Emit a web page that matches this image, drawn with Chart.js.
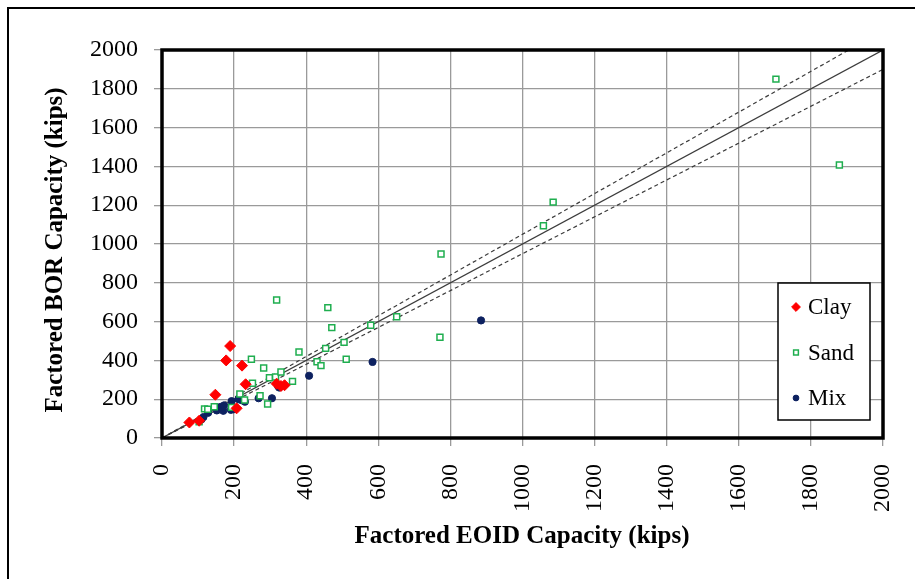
<!DOCTYPE html>
<html>

<head>
    <title>Factored BOR vs EOID Capacity</title>
    <script src="https://cdn.jsdelivr.net/npm/chart.js"></script>
    <style>
        html, body {
            margin: 0;
            padding: 0;
            background: #ffffff;
        }

        .chart-container {
            position: relative;
            width: 915px;
            height: 579px;
        }
    </style>
</head>

<body>
    <div class="chart-container">
        <canvas id="capacityChart"></canvas>
    </div>

    <script>
        // Factored capacities (kips): [EOID, BOR]
        const clayPoints = [
            [76, 80], [103, 89], [148, 223], [178, 400], [189, 474], [207, 153],
            [222, 373], [232, 277], [318, 280], [330, 268], [340, 272]
        ];
        const sandPoints = [
            [103, 84], [118, 150], [127, 148], [145, 161], [193, 158], [216, 227],
            [229, 196], [248, 406], [251, 282], [272, 218], [282, 361], [293, 175],
            [298, 311], [315, 314], [318, 711], [330, 340], [362, 292], [380, 443],
            [430, 393], [441, 373], [454, 462], [460, 672], [471, 569], [505, 493],
            [511, 406], [579, 581], [651, 625], [771, 519], [774, 948], [1058, 1094],
            [1085, 1216], [1703, 1850], [1879, 1407]
        ];
        const mixPoints = [
            [110, 97], [115, 108], [128, 130], [152, 142], [162, 160], [170, 140],
            [172, 168], [191, 145], [193, 190], [199, 148], [212, 200], [221, 195],
            [230, 187], [268, 205], [305, 205], [322, 268], [325, 260], [408, 321],
            [584, 392], [885, 606]
        ];

        // 1:1 line and the +/-5% band
        const equalityLine = [[0, 0], [2000, 2000]];
        const upperBand = [[0, 0], [1905, 2000]];
        const lowerBand = [[0, 0], [2000, 1900]];

        const axisMin = 0;
        const axisMax = 2000;
        const axisStep = 200;

        const toXY = pts => pts.map(p => ({ x: p[0], y: p[1] }));

        const serif = "'Liberation Serif', 'Times New Roman', serif";

        const clayStyle = { pointStyle: 'rectRot', radius: 5.5, backgroundColor: '#ff0000', borderColor: '#ff0000', borderWidth: 1 };
        const sandStyle = { pointStyle: 'rect', radius: 4.2, backgroundColor: '#ffffff', borderColor: '#1fae4f', borderWidth: 1.5 };
        const mixStyle = { pointStyle: 'circle', radius: 3.6, backgroundColor: '#0d2160', borderColor: '#0d2160', borderWidth: 1 };

        function pointSet(label, pts, st) {
            return {
                label: label,
                data: toXY(pts),
                showLine: false,
                pointStyle: st.pointStyle,
                pointRadius: st.radius,
                pointHoverRadius: st.radius,
                pointBackgroundColor: st.backgroundColor,
                pointBorderColor: st.borderColor,
                pointBorderWidth: st.borderWidth
            };
        }

        function lineSet(label, pts, dash) {
            return {
                label: label,
                data: toXY(pts),
                showLine: true,
                borderColor: '#3c3c3c',
                borderWidth: 1.2,
                borderDash: dash,
                pointRadius: 0,
                fill: false
            };
        }

        // keep the plot area fixed, ignore label overhang
        function fixBox(size) {
            return scale => {
                if (scale.isHorizontal()) scale.height = size;
                else scale.width = size;
                scale.paddingLeft = 0;
                scale.paddingRight = 0;
                scale.paddingTop = 0;
                scale.paddingBottom = 0;
            };
        }

        // Outer frame, plot border, axis titles and the legend box
        const decorations = {
            id: 'decorations',
            afterDraw(chart) {
                const ctx = chart.ctx;
                const area = chart.chartArea;
                ctx.save();

                ctx.strokeStyle = '#000000';
                ctx.lineWidth = 2;
                ctx.beginPath();
                ctx.moveTo(8, 579);
                ctx.lineTo(8, 8);
                ctx.lineTo(915, 8);
                ctx.stroke();

                ctx.lineWidth = 3.5;
                ctx.strokeRect(area.left, area.top, area.right - area.left, area.bottom - area.top);

                ctx.fillStyle = '#000000';
                ctx.font = 'bold 25px ' + serif;
                ctx.textAlign = 'center';
                ctx.textBaseline = 'middle';
                ctx.fillText('Factored EOID Capacity (kips)', 522, 537);

                ctx.save();
                ctx.translate(56, 250);
                ctx.rotate(-Math.PI / 2);
                ctx.fillText('Factored BOR Capacity (kips)', 0, 0);
                ctx.restore();

                // legend
                const lx = 778, ly = 283, lw = 92, lh = 137;
                ctx.fillStyle = '#ffffff';
                ctx.fillRect(lx, ly, lw, lh);
                ctx.lineWidth = 1.5;
                ctx.strokeStyle = '#000000';
                ctx.strokeRect(lx, ly, lw, lh);

                const entries = [['Clay', clayStyle], ['Sand', sandStyle], ['Mix', mixStyle]];
                ctx.font = '23px ' + serif;
                ctx.textAlign = 'left';
                entries.forEach((e, i) => {
                    const y = 307 + i * 45.5;
                    const st = e[1];
                    ctx.fillStyle = st.backgroundColor;
                    ctx.strokeStyle = st.borderColor;
                    ctx.lineWidth = st.borderWidth;
                    Chart.helpers.drawPoint(ctx, {
                        pointStyle: st.pointStyle,
                        radius: st.radius * 0.8,
                        borderWidth: st.borderWidth
                    }, 796, y);
                    ctx.fillStyle = '#000000';
                    ctx.fillText(e[0], 808, y + 1);
                });

                ctx.restore();
            }
        };

        const tickFont = { family: serif, size: 24 };
        const gridStyle = {
            color: '#9a9a9a',
            lineWidth: 1.3,
            tickLength: 8,
            tickColor: '#9a9a9a'
        };

        const ctx = document.getElementById('capacityChart').getContext('2d');
        const chart = new Chart(ctx, {
            type: 'scatter',
            data: {
                datasets: [
                    pointSet('Clay', clayPoints, clayStyle),
                    pointSet('Sand', sandPoints, sandStyle),
                    pointSet('Mix', mixPoints, mixStyle),
                    lineSet('1:1', equalityLine, []),
                    lineSet('+5%', upperBand, [4, 3]),
                    lineSet('-5%', lowerBand, [4, 3])
                ]
            },
            options: {
                responsive: true,
                maintainAspectRatio: false,
                animation: false,
                layout: {
                    padding: { left: 0, top: 50, right: 32, bottom: 0 }
                },
                plugins: {
                    legend: { display: false },
                    tooltip: { enabled: false }
                },
                scales: {
                    x: {
                        type: 'linear',
                        min: axisMin,
                        max: axisMax,
                        afterFit: fixBox(141),
                        ticks: {
                            stepSize: axisStep,
                            minRotation: 90,
                            maxRotation: 90,
                            padding: 18,
                            color: '#000000',
                            font: tickFont,
                            callback: v => String(v)
                        },
                        grid: gridStyle,
                        border: { display: false }
                    },
                    y: {
                        type: 'linear',
                        min: axisMin,
                        max: axisMax,
                        afterFit: fixBox(162),
                        ticks: {
                            stepSize: axisStep,
                            padding: 16,
                            color: '#000000',
                            font: tickFont,
                            callback: v => String(v)
                        },
                        grid: gridStyle,
                        border: { display: false }
                    }
                }
            },
            plugins: [decorations]
        });
    </script>
</body>

</html>
